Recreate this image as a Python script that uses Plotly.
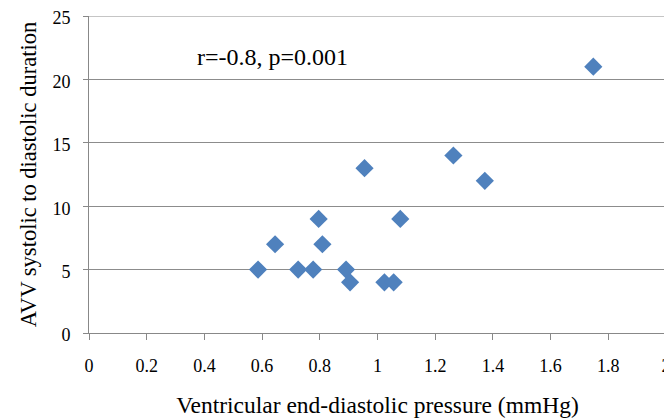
import plotly.graph_objects as go

# Values
pressure = [0.586, 0.645, 0.725, 0.777, 0.796, 0.809, 0.891, 0.905,
            0.955, 1.024, 1.056, 1.079, 1.263, 1.372, 1.748]
duration = [5, 7, 5, 5, 9, 7, 5, 4, 13, 4, 4, 9, 14, 12, 21]

x_ticks = [0, 0.2, 0.4, 0.6, 0.8, 1, 1.2, 1.4, 1.6, 1.8, 2]
x_tick_text = ["0", "0.2", "0.4", "0.6", "0.8", "1", "1.2", "1.4", "1.6", "1.8", "2"]
y_ticks = [0, 5, 10, 15, 20, 25]

serif = "Liberation Serif, DejaVu Serif, serif"

fig = go.Figure(go.Scatter(
    x=pressure,
    y=duration,
    mode="markers",
    marker=dict(symbol="diamond", size=14, color="#4F81BD"),
    showlegend=False,
))

fig.add_annotation(
    x=0.636, y=21.8, xref="x", yref="y",
    text="r=-0.8, p=0.001", showarrow=False,
    font=dict(family=serif, size=24, color="#000000"),
)

# plotly drops the gridline at the top edge, so draw it by hand
fig.add_shape(
    type="line", xref="paper", x0=0, x1=1,
    yref="y", y0=y_ticks[-1], y1=y_ticks[-1],
    line=dict(color="#8c8c8c", width=1), layer="below",
)

# page body has an 8px margin, so the figure is a bit smaller than the window
fig.update_layout(
    width=664, height=412,
    margin=dict(l=81, r=6, t=8, b=87),
    paper_bgcolor="white", plot_bgcolor="white",
    font=dict(family=serif, color="#000000"),
)

fig.update_xaxes(
    range=[0, 2], tickvals=x_ticks, ticktext=x_tick_text,
    showgrid=False, zeroline=False, automargin=False,
    showline=True, linecolor="#888888", linewidth=1,
    ticks="outside", ticklen=6, tickcolor="#888888",
    tickfont=dict(size=18), ticklabelstandoff=10,
    ticklabeloverflow="allow",
    title=dict(text="Ventricular end-diastolic pressure (mmHg)",
               font=dict(size=23.5), standoff=21),
)
fig.update_yaxes(
    range=[0, 25], tickvals=y_ticks,
    showgrid=True, gridcolor="#8c8c8c", gridwidth=1,
    zeroline=False, automargin=False,
    showline=True, linecolor="#888888", linewidth=1,
    ticks="outside", ticklen=5, tickcolor="#888888",
    tickfont=dict(size=18), ticklabelstandoff=9, ticklabelshift=2,
    ticklabeloverflow="allow",
    title=dict(text="AVV systolic to diastolic duration",
               font=dict(size=22.5), standoff=9),
)

fig.write_html("out.html")
